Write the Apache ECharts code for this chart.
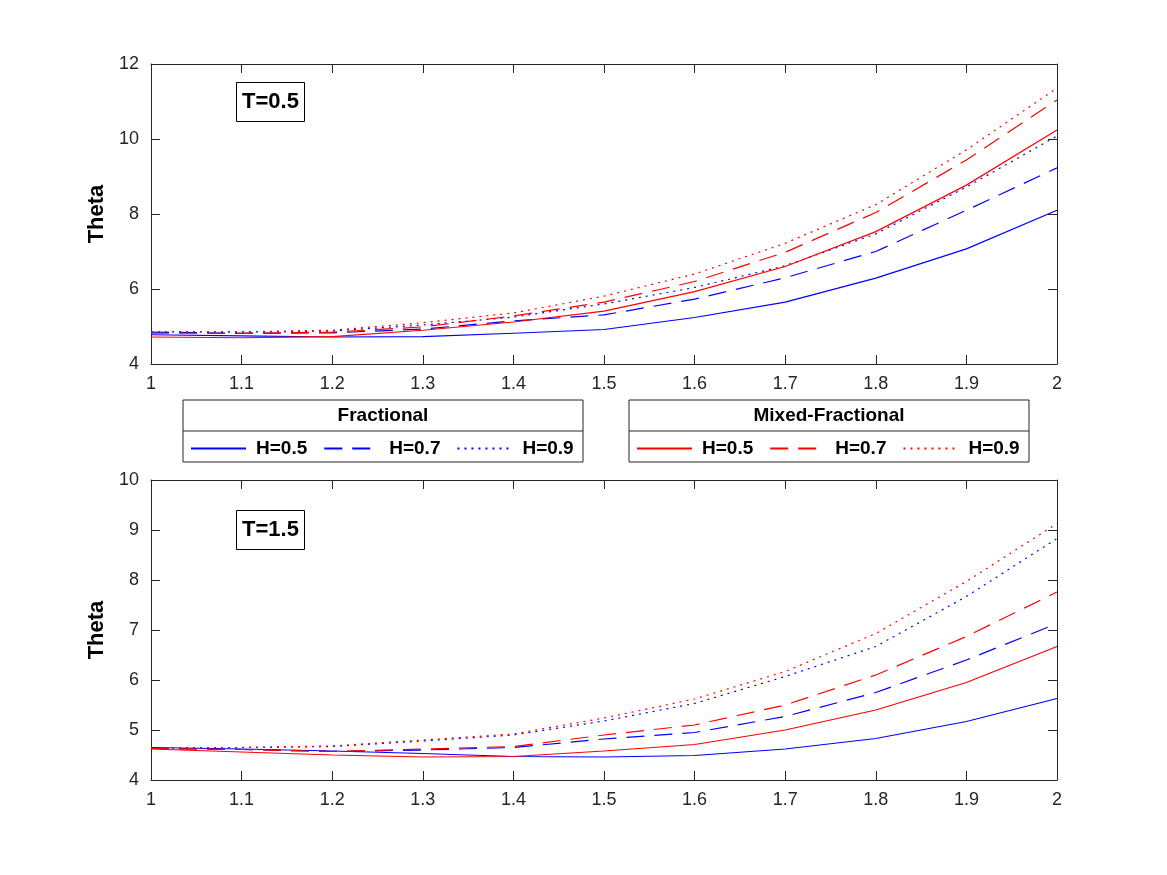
<!DOCTYPE html>
<html>
<head>
<meta charset="utf-8">
<script src="https://cdn.jsdelivr.net/npm/echarts@6/dist/echarts.min.js"></script>
<style>
  html, body { margin: 0; padding: 0; background: #fff; }
  #chart { width: 1167px; height: 875px; }
</style>
</head>
<body>
<div id="chart"></div>
<script>
// x values shared by both panels
const xs = [1, 1.1, 1.2, 1.3, 1.4, 1.5, 1.6, 1.7, 1.8, 1.9, 2]

// T = 0.5 (top panel)
const topFrac05 = [4.78, 4.75, 4.72, 4.73, 4.82, 4.92, 5.24, 5.65, 6.29, 7.07, 8.1]
const topFrac07 = [4.85, 4.82, 4.83, 4.93, 5.15, 5.31, 5.73, 6.3, 7.0, 8.1, 9.23]
const topFrac09 = [4.86, 4.85, 4.88, 5.04, 5.25, 5.6, 6.04, 6.62, 7.47, 8.72, 10.08]
const topMix05 = [4.72, 4.7, 4.73, 4.9, 5.12, 5.41, 5.93, 6.6, 7.53, 8.77, 10.24]
const topMix07 = [4.82, 4.82, 4.85, 4.99, 5.28, 5.65, 6.2, 6.98, 8.04, 9.44, 11.04]
const topMix09 = [4.86, 4.86, 4.9, 5.1, 5.36, 5.81, 6.4, 7.22, 8.25, 9.71, 11.36]

// T = 1.5 (bottom panel)
const botFrac05 = [4.65, 4.62, 4.58, 4.53, 4.47, 4.46, 4.49, 4.62, 4.83, 5.17, 5.63]
const botFrac07 = [4.63, 4.61, 4.57, 4.6, 4.65, 4.82, 4.95, 5.27, 5.75, 6.4, 7.13]
const botFrac09 = [4.64, 4.65, 4.67, 4.78, 4.9, 5.18, 5.53, 6.07, 6.67, 7.67, 8.83]
const botMix05 = [4.62, 4.56, 4.5, 4.46, 4.47, 4.58, 4.71, 5.0, 5.4, 5.95, 6.67]
const botMix07 = [4.63, 4.61, 4.57, 4.62, 4.67, 4.9, 5.1, 5.5, 6.1, 6.87, 7.76]
const botMix09 = [4.64, 4.65, 4.68, 4.8, 4.92, 5.24, 5.62, 6.17, 6.93, 7.97, 9.13]

const hLabels = ['H=0.5', 'H=0.7', 'H=0.9']

const FONT = 'Liberation Sans'
const AXIS_COLOR = '#262626'
const BLUE = '#0000ff'
const RED = '#ff0000'
const dashStyles = ['solid', [18, 10], [2, 5]]

const chart = echarts.init(document.getElementById('chart'))

const zip = arr => xs.map((x, i) => [x, arr[i]])

const makeSeries = (name, data, color, dashIdx, axisIdx) => ({
  name,
  type: 'line',
  data: zip(data),
  xAxisIndex: axisIdx,
  yAxisIndex: axisIdx,
  symbol: 'none',
  smooth: false,
  lineStyle: { color, width: 1.2, type: dashStyles[dashIdx] },
  itemStyle: { color },
  emphasis: { disabled: true }
})

const fracNames = hLabels.map(h => 'Fractional ' + h)
const mixNames = hLabels.map(h => 'Mixed-Fractional ' + h)

const xBase = (gridIndex) => ({
  type: 'value',
  gridIndex,
  min: 1,
  max: 2,
  interval: 0.1,
  axisLine: { show: true, onZero: false, lineStyle: { color: AXIS_COLOR, width: 1 } },
  axisTick: { show: true, inside: true, length: 9, lineStyle: { color: AXIS_COLOR } },
  splitLine: { show: false },
  axisLabel: {
    show: true,
    color: AXIS_COLOR,
    fontFamily: FONT,
    fontSize: 18,
    margin: 11,
    formatter: v => String(Math.round(v * 10) / 10)
  }
})

const xMirror = (gridIndex) => Object.assign(xBase(gridIndex), {
  position: 'top',
  axisLabel: { show: false }
})

const yBase = (gridIndex, min, max, interval) => ({
  type: 'value',
  gridIndex,
  min,
  max,
  interval,
  name: 'Theta',
  nameLocation: 'middle',
  nameGap: 37,
  nameTextStyle: { fontFamily: FONT, fontSize: 22, fontWeight: 'bold', color: '#000' },
  axisLine: { show: true, onZero: false, lineStyle: { color: AXIS_COLOR, width: 1 } },
  axisTick: { show: true, inside: true, length: 9, lineStyle: { color: AXIS_COLOR } },
  splitLine: { show: false },
  axisLabel: { color: AXIS_COLOR, fontFamily: FONT, fontSize: 18, margin: 12 }
})

const yMirror = (gridIndex, min, max, interval) => ({
  type: 'value',
  gridIndex,
  min,
  max,
  interval,
  position: 'right',
  axisLine: { show: true, onZero: false, lineStyle: { color: AXIS_COLOR, width: 1 } },
  axisTick: { show: true, inside: true, length: 9, lineStyle: { color: AXIS_COLOR } },
  splitLine: { show: false },
  axisLabel: { show: false }
})

const legendBase = (names, left) => ({
  data: names,
  left,
  top: 439,
  padding: 0,
  orient: 'horizontal',
  itemWidth: 55,
  itemHeight: 14,
  itemGap: 16,
  selectedMode: false,
  itemStyle: { opacity: 0 },
  formatter: n => n.replace(/^.* /, ''),
  textStyle: { fontFamily: FONT, fontSize: 19, fontWeight: 'bold', color: '#000', padding: [0, 0, 0, 5] }
})

const legendBox = (left, title) => [
  {
    type: 'rect',
    z: 1,
    shape: { x: left, y: 400, width: 400, height: 62 },
    style: { fill: '#fff', stroke: AXIS_COLOR, lineWidth: 1 }
  },
  {
    type: 'line',
    z: 2,
    shape: { x1: left, y1: 431, x2: left + 400, y2: 431 },
    style: { stroke: AXIS_COLOR, lineWidth: 1 }
  },
  {
    type: 'text',
    z: 2,
    x: left + 200,
    y: 416,
    style: {
      text: title,
      fill: '#000',
      font: 'bold 19px "Liberation Sans"',
      textAlign: 'center',
      textVerticalAlign: 'middle'
    }
  }
]

chart.setOption({
  backgroundColor: '#fff',
  animation: false,
  title: [
    {
      text: 'T=0.5', left: 236, top: 82,
      borderColor: '#000', borderWidth: 1, padding: [9, 6, 9, 6],
      textStyle: { fontFamily: FONT, fontSize: 22, fontWeight: 'bold', color: '#000' }
    },
    {
      text: 'T=1.5', left: 236, top: 510,
      borderColor: '#000', borderWidth: 1, padding: [9, 6, 9, 6],
      textStyle: { fontFamily: FONT, fontSize: 22, fontWeight: 'bold', color: '#000' }
    }
  ],
  grid: [
    { left: 151, width: 906, top: 64, height: 300 },
    { left: 151, width: 906, top: 480, height: 300 }
  ],
  xAxis: [xBase(0), xMirror(0), xBase(1), xMirror(1)],
  yAxis: [yBase(0, 4, 12, 2), yMirror(0, 4, 12, 2), yBase(1, 4, 10, 1), yMirror(1, 4, 10, 1)],
  legend: [legendBase(fracNames, 190), legendBase(mixNames, 636)],
  graphic: [...legendBox(183, 'Fractional'), ...legendBox(629, 'Mixed-Fractional')],
  series: [
    makeSeries(fracNames[0], topFrac05, BLUE, 0, 0),
    makeSeries(fracNames[1], topFrac07, BLUE, 1, 0),
    makeSeries(fracNames[2], topFrac09, BLUE, 2, 0),
    makeSeries(mixNames[0], topMix05, RED, 0, 0),
    makeSeries(mixNames[1], topMix07, RED, 1, 0),
    makeSeries(mixNames[2], topMix09, RED, 2, 0),
    makeSeries(fracNames[0], botFrac05, BLUE, 0, 2),
    makeSeries(fracNames[1], botFrac07, BLUE, 1, 2),
    makeSeries(fracNames[2], botFrac09, BLUE, 2, 2),
    makeSeries(mixNames[0], botMix05, RED, 0, 2),
    makeSeries(mixNames[1], botMix07, RED, 1, 2),
    makeSeries(mixNames[2], botMix09, RED, 2, 2)
  ]
})

window.addEventListener('resize', () => chart.resize())
</script>
</body>
</html>
